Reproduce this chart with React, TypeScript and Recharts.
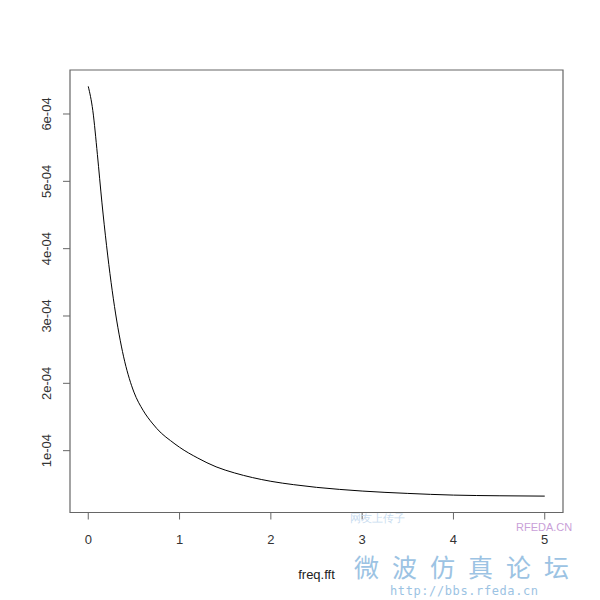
import { LineChart, Line, XAxis, YAxis, ReferenceArea } from 'recharts';

// frequency values (x) and spectrum magnitude (y)
const freq = [0, 0.05, 0.1, 0.15, 0.2, 0.25, 0.3, 0.35, 0.4, 0.45, 0.5, 0.6, 0.7, 0.8, 0.9, 1.0, 1.2, 1.4, 1.6, 1.8, 2.0, 2.25, 2.5, 2.75, 3.0, 3.5, 4.0, 4.5, 5.0];
const magnitude = [6.41e-4, 6.05e-4, 5.4e-4, 4.68e-4, 4.05e-4, 3.5e-4, 3.03e-4, 2.64e-4, 2.32e-4, 2.07e-4, 1.87e-4, 1.6e-4, 1.41e-4, 1.26e-4, 1.15e-4, 1.05e-4, 0.89e-4, 0.76e-4, 0.67e-4, 0.6e-4, 0.545e-4, 0.495e-4, 0.455e-4, 0.425e-4, 0.4e-4, 0.365e-4, 0.34e-4, 0.33e-4, 0.325e-4];

const xTicks = [0, 1, 2, 3, 4, 5];
const yTicks = [1e-4, 2e-4, 3e-4, 4e-4, 5e-4, 6e-4];

const data = freq.map((f, i) => ({ f, v: magnitude[i] }));

// R pads axis ranges by 4% on each side
const pad = (lo: number, hi: number): [number, number] => {
  const d = (hi - lo) * 0.04;
  return [lo - d, hi + d];
};
const xDomain = pad(Math.min(...freq), Math.max(...freq));
const yDomain = pad(Math.min(...magnitude), Math.max(...magnitude));

const axisColor = '#666';
const font = '"Liberation Sans", Arial, sans-serif';
const wmBlue = '#9cc3e3';

const fmtY = (v: number) => `${Math.round(v * 1e4)}e-04`;

const XTick = (props: any) => {
  const { x, y, payload } = props;
  return (
    <text x={x} y={y} dy="0.71em" textAnchor="middle" fontSize={13} fill="#333" fontFamily={font}>
      {payload.value}
    </text>
  );
};

const YTick = (props: any) => {
  const { x, y, payload } = props;
  return (
    <text x={x} y={y} transform={`rotate(-90 ${x} ${y})`} textAnchor="middle" fontSize={13} fill="#333" fontFamily={font}>
      {fmtY(payload.value)}
    </text>
  );
};

export default function App() {
  return (
    <div style={{ position: 'absolute', left: 0, top: 0, width: 600, height: 600, background: '#fff', fontFamily: font }}>
      <LineChart width={600} height={600} data={data} margin={{ top: 70, right: 37, left: 0, bottom: 0 }}>
        <XAxis
          dataKey="f"
          type="number"
          domain={xDomain}
          ticks={xTicks}
          allowDataOverflow
          axisLine={false}
          tickLine={{ stroke: axisColor }}
          tickSize={7}
          tickMargin={15}
          tick={<XTick />}
          height={87.5}
        />
        <YAxis
          dataKey="v"
          type="number"
          domain={yDomain}
          ticks={yTicks}
          allowDataOverflow
          axisLine={false}
          tickLine={{ stroke: axisColor }}
          tickSize={7}
          tickMargin={12}
          tick={<YTick />}
          width={70}
        />
        <ReferenceArea
          x1={xDomain[0]}
          x2={xDomain[1]}
          y1={yDomain[0]}
          y2={yDomain[1]}
          fill="none"
          stroke={axisColor}
          strokeWidth={1.2}
          ifOverflow="visible"
        />
        <Line type="monotone" dataKey="v" stroke="#000" strokeWidth={1} dot={false} isAnimationActive={false} />
      </LineChart>
      <div style={{ position: 'absolute', left: 0, width: 633, top: 568, lineHeight: 1, textAlign: 'center', fontSize: 13, color: '#222' }}>
        freq.fft
      </div>
      <div style={{ position: 'absolute', left: 516, top: 522, lineHeight: 1, fontSize: 11, color: '#c9a0d8' }}>RFEDA.CN</div>
      <div style={{ position: 'absolute', left: 350, top: 513, lineHeight: 1, fontSize: 11, color: '#c8dcef' }}>网友上传子</div>
      <div style={{ position: 'absolute', left: 354, top: 554, lineHeight: 1, fontSize: 25, letterSpacing: 13, color: wmBlue, fontFamily: '"Noto Sans CJK SC", sans-serif', whiteSpace: 'nowrap' }}>
        微波仿真论坛
      </div>
      <div style={{ position: 'absolute', left: 390, top: 585, lineHeight: 1, fontSize: 12, letterSpacing: 0.6, color: wmBlue, fontFamily: '"DejaVu Sans Mono", monospace', whiteSpace: 'nowrap' }}>
        http://bbs.rfeda.cn
      </div>
    </div>
  );
}
